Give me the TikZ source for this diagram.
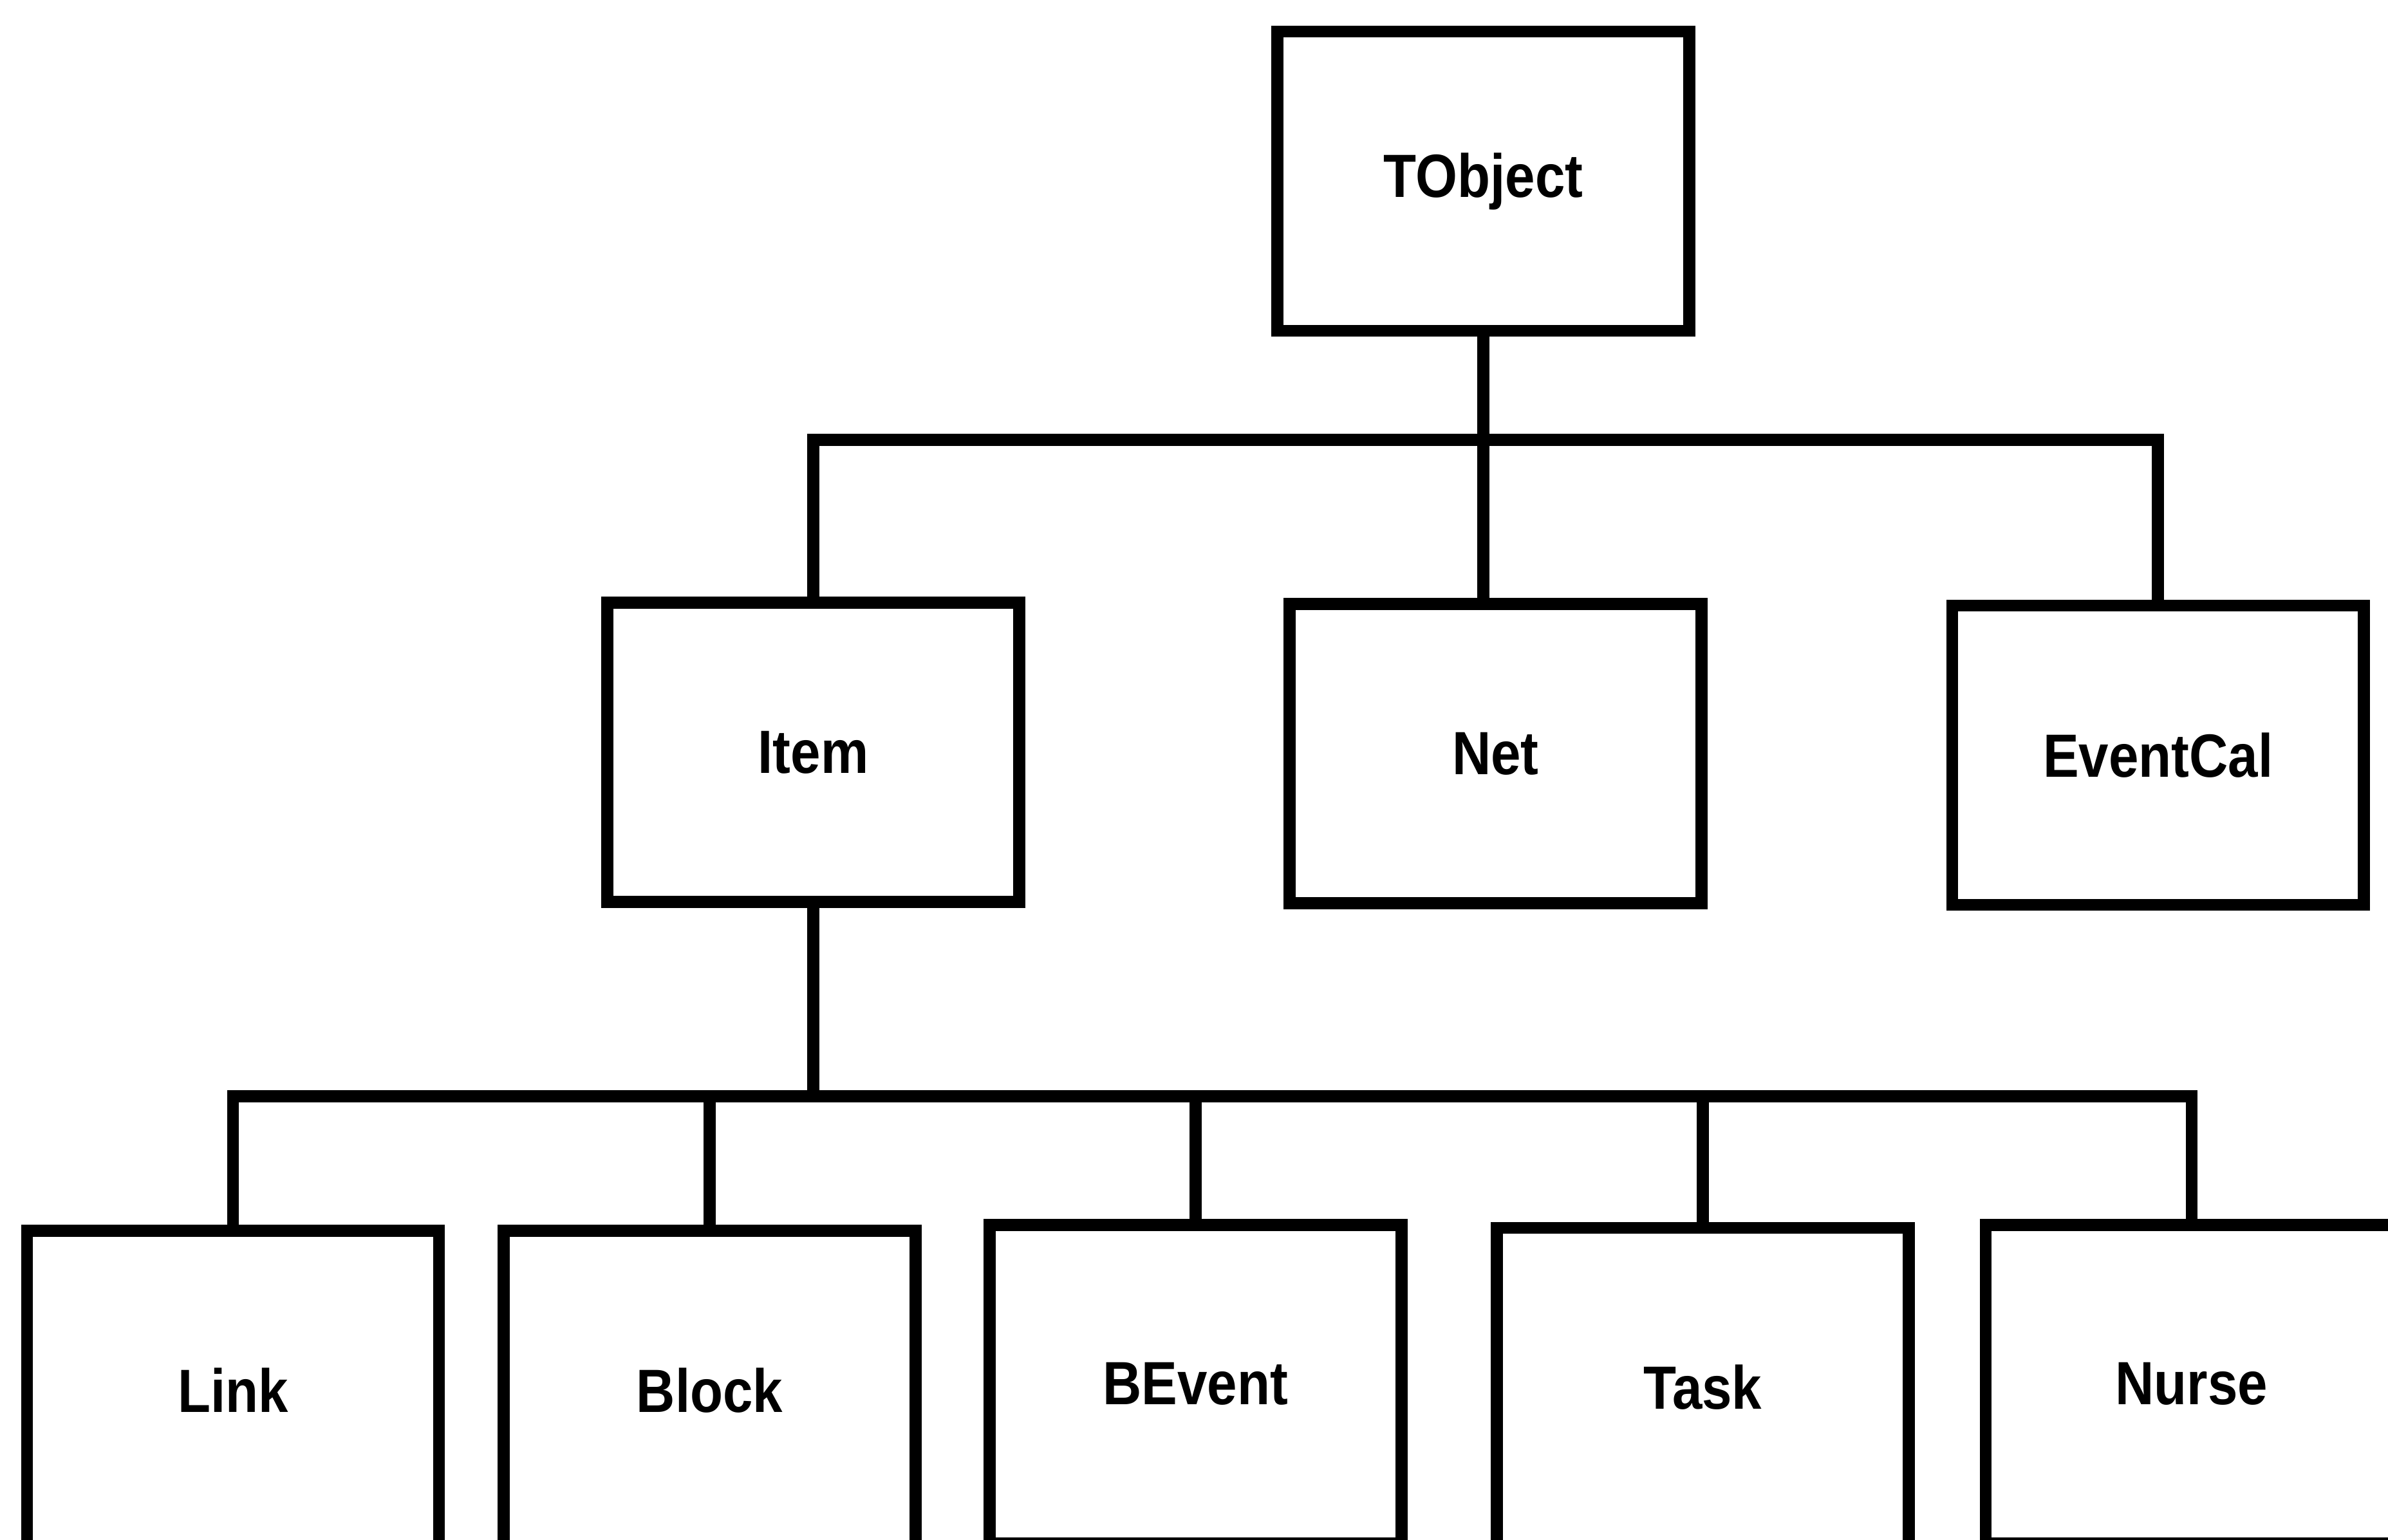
\documentclass[tikz,border=0pt]{standalone}
\usepackage{fontspec}
\setmainfont{Liberation Sans}[FakeStretch=0.88]
\usetikzlibrary{positioning}

\begin{document}
\begin{tikzpicture}[
  x=0.02366cm, y=-0.02366cm,
  cls/.style={draw, line width=5.3pt, minimum width=6.4cm, minimum height=4.65cm,
    inner sep=0pt, font=\fontsize{27pt}{32pt}\selectfont\bfseries},
  leaf/.style={cls, minimum height=4.95cm},
  link/.style={line width=5.3pt},
]
  \useasboundingbox (0,0) rectangle (1568,1011);

  % top level
  \node[cls] (tobj) at (974,119) {TObject};

  % second level
  \node[cls] (item)  at (534,494) {Item};
  \node[cls] (net)   at (982,495) {Net};
  \node[cls] (evcal) at (1417,496) {EventCal};

  % third level (runs off the bottom edge)
  \node[leaf] (lnk)    at (153,913)  {Link};
  \node[leaf] (block)  at (466,913)  {Block};
  \node[leaf] (bevent) at (785,909)  {BEvent};
  \node[leaf] (task)   at (1118,911) {Task};
  \node[leaf] (nurse)  at (1439,909) {Nurse};

  \coordinate (busA) at (974,289);
  \coordinate (busB) at (537,720);

  \draw[link] (tobj.south) -- (tobj.south |- net.north);
  \draw[link] (item.north) |- (busA) -| (evcal.north);

  \draw[link] (item.south) -- (item.south |- busB);
  \draw[link] (lnk.north) |- (busB) -| (nurse.north);
  \foreach \n in {block,bevent,task}
    \draw[link] (\n.north) -- (\n.north |- busB);
\end{tikzpicture}
\end{document}
